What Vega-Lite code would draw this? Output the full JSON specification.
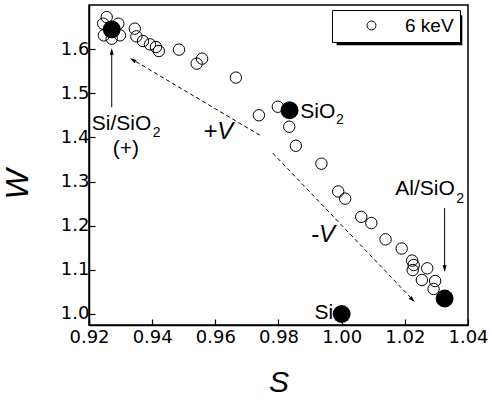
{
  "$schema": "https://vega.github.io/schema/vega-lite/v6.json",
  "width": 379,
  "height": 320,
  "autosize": {"type": "none"},
  "padding": {"left": 89, "top": 5, "right": 23, "bottom": 78},
  "background": "white",
  "config": {
    "view": {"stroke": "black", "strokeWidth": 1.5},
    "axis": {
      "grid": false,
      "domain": true,
      "domainColor": "black",
      "domainWidth": 1.5,
      "tickColor": "black",
      "tickWidth": 1.2,
      "tickSize": -6,
      "labelColor": "black",
      "labelFont": "DejaVu Sans",
      "labelFontSize": 18,
      "labelFlush": false,
      "labelOverlap": false,
      "titleColor": "black",
      "titleFont": "Liberation Sans",
      "titleFontWeight": "normal",
      "titleFontStyle": "italic"
    },
    "text": {"font": "Liberation Sans", "color": "black"}
  },
  "datasets": {
    "open": [
      {"S": 0.9256, "W": 1.6726}, {"S": 0.9245, "W": 1.6577}, {"S": 0.9247, "W": 1.6312},
      {"S": 0.9272, "W": 1.6237}, {"S": 0.9298, "W": 1.6312}, {"S": 0.9293, "W": 1.6577},
      {"S": 0.9345, "W": 1.6464}, {"S": 0.9350, "W": 1.6290}, {"S": 0.9371, "W": 1.6183},
      {"S": 0.9393, "W": 1.6109}, {"S": 0.9412, "W": 1.6048}, {"S": 0.9421, "W": 1.5957},
      {"S": 0.9485, "W": 1.5989}, {"S": 0.9541, "W": 1.5672}, {"S": 0.9558, "W": 1.5785},
      {"S": 0.9665, "W": 1.5355}, {"S": 0.9738, "W": 1.4502}, {"S": 0.9798, "W": 1.4695},
      {"S": 0.9834, "W": 1.4242}, {"S": 0.9855, "W": 1.3812}, {"S": 0.9936, "W": 1.3405},
      {"S": 0.9989, "W": 1.2776}, {"S": 1.0011, "W": 1.2613}, {"S": 1.0062, "W": 1.2201},
      {"S": 1.0094, "W": 1.2059}, {"S": 1.0139, "W": 1.1690}, {"S": 1.0190, "W": 1.1482},
      {"S": 1.0223, "W": 1.1210}, {"S": 1.0228, "W": 1.1109}, {"S": 1.0225, "W": 1.0995},
      {"S": 1.0271, "W": 1.1034}, {"S": 1.0254, "W": 1.0769}, {"S": 1.0296, "W": 1.0747},
      {"S": 1.0291, "W": 1.0566}
    ],
    "filled": [
      {"S": 0.9272, "W": 1.6448}, {"S": 0.9835, "W": 1.4615},
      {"S": 1.0000, "W": 1.0000}, {"S": 1.0326, "W": 1.0351}
    ],
    "arrows": [
      {"id": "SiSiO2", "S": 0.9272, "W": 1.4683, "S2": 0.9272, "W2": 1.598},
      {"id": "AlSiO2", "S": 1.0326, "W": 1.2398, "S2": 1.0326, "W2": 1.099},
      {"id": "plusV", "S": 0.9741, "W": 1.405, "S2": 0.9335, "W2": 1.5775},
      {"id": "minusV", "S": 0.9782, "W": 1.3643, "S2": 1.0228, "W2": 1.030}
    ],
    "heads": [
      {"id": "SiSiO2", "S": 0.9272, "W": 1.6018},
      {"id": "AlSiO2", "S": 1.0326, "W": 1.0957},
      {"id": "plusV", "S": 0.9330, "W": 1.5792},
      {"id": "minusV", "S": 1.0231, "W": 1.0271}
    ],
    "labels": [
      {"text": "Si/SiO", "S": 0.9209, "W": 1.4163},
      {"text": "SiO", "S": 0.9869, "W": 1.4434},
      {"text": "Al/SiO", "S": 1.0170, "W": 1.2692}
    ],
    "subs": [
      {"text": "2", "S": 0.9402, "W": 1.4005},
      {"text": "2", "S": 0.9982, "W": 1.4314},
      {"text": "2", "S": 1.0363, "W": 1.2511}
    ],
    "plus": [{"text": "(+)", "S": 0.9317, "W": 1.3597}],
    "si": [{"text": "Si", "S": 0.9973, "W": 0.9876}],
    "signs": [
      {"text": "+V", "S": 0.9609, "W": 1.3959},
      {"text": "-V", "S": 0.9941, "W": 1.1636}
    ],
    "shadow": [{"S": 0.9984, "S2": 1.0382, "W": 1.6765, "W2": 1.6086}]
  },
  "encoding": {
    "x": {
      "field": "S", "type": "quantitative",
      "scale": {"domain": [0.92, 1.04], "nice": false, "zero": false},
      "axis": {
        "title": "S",
        "values": [0.92, 0.94, 0.96, 0.98, 1.0, 1.02, 1.04],
        "format": ".2f",
        "labelPadding": 9,
        "titleFontSize": 30,
        "titlePadding": 21
      }
    },
    "y": {
      "field": "W", "type": "quantitative",
      "scale": {"domain": [0.975, 1.70], "nice": false, "zero": false},
      "axis": {
        "title": "W",
        "values": [1.0, 1.1, 1.2, 1.3, 1.4, 1.5, 1.6],
        "format": ".1f",
        "labelPadding": 6,
        "titleFontSize": 32,
        "titlePadding": 26,
        "titleY": 179
      }
    }
  },
  "layer": [
    {
      "data": {"name": "shadow"},
      "mark": {"type": "rect", "fill": "black"},
      "encoding": {"x2": {"field": "S2"}, "y2": {"field": "W2"}}
    },
    {
      "data": {"name": "arrows"},
      "transform": [{"filter": "datum.id == 'SiSiO2' || datum.id == 'AlSiO2'"}],
      "mark": {"type": "rule", "color": "black", "strokeWidth": 1},
      "encoding": {"x2": {"field": "S2"}, "y2": {"field": "W2"}}
    },
    {
      "data": {"name": "arrows"},
      "transform": [{"filter": "datum.id == 'plusV' || datum.id == 'minusV'"}],
      "mark": {"type": "rule", "color": "black", "strokeWidth": 1, "strokeDash": [4, 3]},
      "encoding": {"x2": {"field": "S2"}, "y2": {"field": "W2"}}
    },
    {
      "data": {"name": "heads"},
      "transform": [{"filter": "datum.id == 'SiSiO2'"}],
      "mark": {"type": "point", "shape": "M0,0L-0.4,1.3L0.4,1.3Z", "filled": true, "color": "black", "size": 100, "angle": 0, "opacity": 1}
    },
    {
      "data": {"name": "heads"},
      "transform": [{"filter": "datum.id == 'AlSiO2'"}],
      "mark": {"type": "point", "shape": "M0,0L-0.4,1.3L0.4,1.3Z", "filled": true, "color": "black", "size": 100, "angle": 180, "opacity": 1}
    },
    {
      "data": {"name": "heads"},
      "transform": [{"filter": "datum.id == 'plusV'"}],
      "mark": {"type": "point", "shape": "M0,0L-0.4,1.3L0.4,1.3Z", "filled": true, "color": "black", "size": 100, "angle": 300.6, "opacity": 1}
    },
    {
      "data": {"name": "heads"},
      "transform": [{"filter": "datum.id == 'minusV'"}],
      "mark": {"type": "point", "shape": "M0,0L-0.4,1.3L0.4,1.3Z", "filled": true, "color": "black", "size": 100, "angle": 136.4, "opacity": 1}
    },
    {
      "data": {"name": "open"},
      "mark": {"type": "point", "shape": "circle", "filled": false, "size": 130, "strokeWidth": 1, "opacity": 1},
      "encoding": {
        "stroke": {
          "datum": "6 keV",
          "type": "nominal",
          "scale": {"range": ["black"]},
          "legend": {
            "title": null,
            "orient": "none",
            "legendX": 243,
            "legendY": 5,
            "padding": 6,
            "strokeColor": "black",
            "fillColor": "white",
            "symbolType": "circle",
            "symbolSize": 80,
            "symbolStrokeWidth": 1,
            "symbolFillColor": "white",
            "symbolOffset": 24,
            "labelOffset": 24,
            "labelFont": "Liberation Sans",
            "labelFontSize": 19,
            "labelColor": "black"
          }
        }
      }
    },
    {
      "data": {"name": "filled"},
      "mark": {"type": "point", "shape": "circle", "filled": true, "color": "black", "size": 320, "opacity": 1}
    },
    {
      "data": {"name": "labels"},
      "mark": {"type": "text", "align": "left", "baseline": "alphabetic", "fontSize": 21},
      "encoding": {"text": {"field": "text"}}
    },
    {
      "data": {"name": "subs"},
      "mark": {"type": "text", "align": "left", "baseline": "alphabetic", "fontSize": 14},
      "encoding": {"text": {"field": "text"}}
    },
    {
      "data": {"name": "plus"},
      "mark": {"type": "text", "align": "center", "baseline": "alphabetic", "fontSize": 21},
      "encoding": {"text": {"field": "text"}}
    },
    {
      "data": {"name": "si"},
      "mark": {"type": "text", "align": "right", "baseline": "alphabetic", "fontSize": 21},
      "encoding": {"text": {"field": "text"}}
    },
    {
      "data": {"name": "signs"},
      "mark": {"type": "text", "align": "center", "baseline": "alphabetic", "fontSize": 24, "fontStyle": "italic"},
      "encoding": {"text": {"field": "text"}}
    }
  ]
}
